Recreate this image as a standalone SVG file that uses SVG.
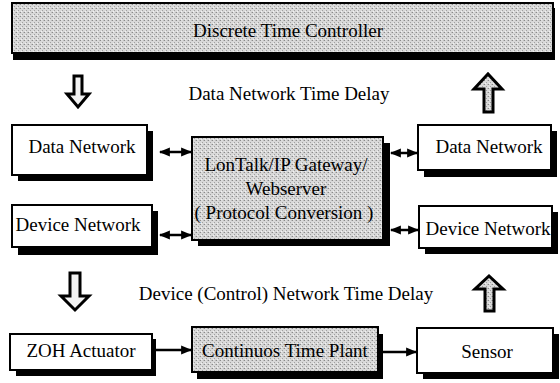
<svg xmlns="http://www.w3.org/2000/svg" width="560" height="383" viewBox="0 0 560 383">
<defs>
<pattern id="stip" width="4" height="4" patternUnits="userSpaceOnUse">
<rect width="4" height="4" fill="#d9d9d9"/>
<rect x="0" y="0" width="1" height="1" fill="#8a8a8a"/>
<rect x="2" y="2" width="1" height="1" fill="#a0a0a0"/>
<rect x="3" y="0" width="1" height="1" fill="#bcbcbc"/>
<rect x="1" y="3" width="1" height="1" fill="#f2f2f2"/>
</pattern>
<marker id="ah" viewBox="0 0 10 10" refX="9" refY="5" markerWidth="11" markerHeight="11" markerUnits="userSpaceOnUse" orient="auto-start-reverse">
<path d="M0,1 L10,5 L0,9 z" fill="#000"/>
</marker>
</defs>
<style>
.box{fill:#fff;stroke:#000;stroke-width:2}
.gbox{fill:url(#stip);stroke:#000;stroke-width:2}
.sh{fill:#000}
.t{font-family:"Liberation Serif","Times New Roman",serif;font-size:19px;fill:#000;text-anchor:middle}
.con{stroke:#000;stroke-width:2.5;fill:none}
.blk{stroke:#000;stroke-width:3;stroke-linejoin:miter}
</style>
<rect width="560" height="383" fill="#fff"/>

<g id="controller">
<rect class="sh" x="13" y="8" width="542" height="52"/>
<rect class="gbox" x="12" y="3" width="541" height="50"/>
<text class="t" x="288" y="37">Discrete Time Controller</text>
</g>

<g id="label-data-delay"><text class="t" x="289" y="100">Data Network Time Delay</text></g>
<g id="label-device-delay"><text class="t" x="286" y="300">Device (Control) Network Time Delay</text></g>

<g id="data-net-left">
<rect class="sh" x="18" y="131" width="135" height="50"/>
<rect class="box" x="12" y="125" width="135" height="50"/>
<text class="t" x="82" y="153">Data Network</text>
</g>
<g id="device-net-left">
<rect class="sh" x="18" y="211" width="140" height="44"/>
<rect class="box" x="12" y="205" width="140" height="42"/>
<text class="t" x="78" y="231">Device Network</text>
</g>
<g id="gateway">
<rect class="sh" x="198" y="143" width="192" height="103"/>
<rect class="gbox" x="192" y="137" width="191" height="103"/>
<text class="t" x="286" y="171">LonTalk/IP Gateway/</text>
<text class="t" x="286" y="195">Webserver</text>
<text class="t" x="284" y="219">( Protocol Conversion )</text>
</g>
<g id="data-net-right">
<rect class="sh" x="424" y="131" width="133" height="46"/>
<rect class="box" x="418" y="125" width="133" height="45"/>
<text class="t" x="489" y="153">Data Network</text>
</g>
<g id="device-net-right">
<rect class="sh" x="425" y="212" width="133" height="42"/>
<rect class="box" x="419" y="206" width="133" height="42"/>
<text class="t" x="488" y="235">Device Network</text>
</g>

<g id="zoh">
<rect class="sh" x="16" y="339" width="140" height="37"/>
<rect class="box" x="10" y="334" width="142" height="36"/>
<text class="t" x="81" y="357">ZOH Actuator</text>
</g>
<g id="plant">
<rect class="sh" x="197" y="334" width="186" height="45"/>
<rect class="gbox" x="192" y="327" width="186" height="45"/>
<text class="t" x="285" y="357">Continuos Time Plant</text>
</g>
<g id="sensor">
<rect class="sh" x="423" y="334" width="136" height="45"/>
<rect class="box" x="417" y="328" width="136" height="45"/>
<text class="t" x="487" y="358">Sensor</text>
</g>

<g id="connectors">
<path class="blk" fill="#f2f2f2" d="M74,76 H82 V94 H89 L78,107 L67,94 H74 Z"/>
<path class="blk" fill="url(#stip)" d="M484,112 H493 V89 H502 L488,74 L474,89 H484 Z"/>
<path class="blk" fill="#f2f2f2" d="M70,273 H80 V296 H89 L75,310 L61,296 H70 Z"/>
<path class="blk" fill="url(#stip)" d="M485,311 H494 V289 H503 L489,276 L475,289 H485 Z"/>
<line class="con" x1="160" y1="152" x2="191" y2="152" marker-start="url(#ah)" marker-end="url(#ah)"/>
<line class="con" x1="160" y1="235" x2="191" y2="235" marker-start="url(#ah)" marker-end="url(#ah)"/>
<line class="con" x1="391" y1="153" x2="417" y2="153" marker-start="url(#ah)" marker-end="url(#ah)"/>
<line class="con" x1="391" y1="230" x2="418" y2="230" marker-start="url(#ah)" marker-end="url(#ah)"/>
<line class="con" x1="153" y1="350" x2="191" y2="350" marker-end="url(#ah)"/>
<line class="con" x1="383" y1="352" x2="416" y2="352" marker-end="url(#ah)"/>
</g>
</svg>
